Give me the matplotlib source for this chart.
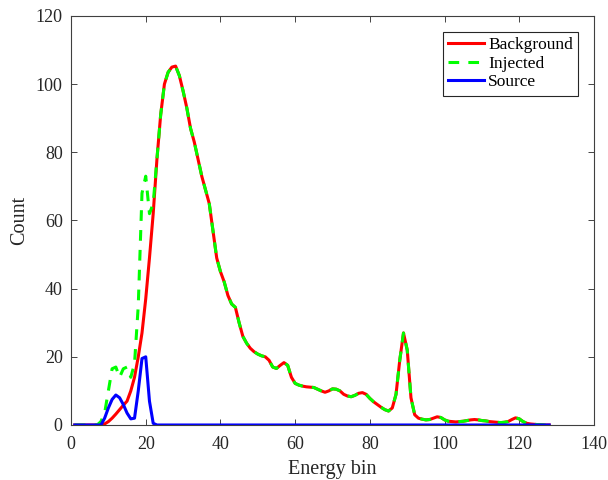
import numpy as np
import matplotlib
matplotlib.use("Agg")
import matplotlib.pyplot as plt

plt.rcParams['font.family'] = ['Liberation Serif', 'DejaVu Serif']
plt.rcParams['mathtext.fontset'] = 'stix'

bins = np.arange(1, 129)

background = [
    0, 0, 0, 0, 0, 0, 0, 0, 0.3, 1,
    2, 3.2, 4.5, 5.8, 7, 10, 14, 20, 27, 37,
    49, 62, 78, 91, 100, 103.5, 105, 105.3, 102.5, 98,
    93, 87, 83, 78, 73, 69, 65, 57, 49, 45,
    42, 38, 35.5, 34.5, 30, 26, 24, 22.5, 21.5, 20.8,
    20.3, 20, 19, 17, 16.6, 17.5, 18.3, 17.5, 14, 12.2,
    11.7, 11.4, 11.2, 11.1, 11, 10.5, 10, 9.6, 10, 10.6,
    10.5, 10, 9, 8.5, 8.3, 8.7, 9.3, 9.5, 9, 7.8,
    6.8, 6, 5.2, 4.5, 4.1, 5, 9, 19, 27, 22,
    8, 3, 2, 1.7, 1.5, 1.6, 2, 2.4, 2.2, 1.5,
    1.1, 1, 0.9, 1, 1.1, 1.3, 1.5, 1.6, 1.5, 1.3,
    1.2, 1, 0.9, 0.8, 0.7, 0.8, 1, 1.6, 2.1, 1.8,
    1, 0.5, 0.3, 0.2, 0.1, 0.05, 0, 0,
]

source_head = [
    0, 0, 0, 0, 0, 0, 0, 0, 2, 5,
    7.5, 8.8, 8, 6, 3.5, 1.8, 2, 10, 19.5, 20,
    7, 0.5,
]
source = source_head + [0] * (128 - len(source_head))

injected_head = [
    0, 0, 0, 0, 0, 0, 0, 1, 3.5, 10,
    16.5, 17, 14, 16.5, 17, 14, 18, 35, 68, 73,
    62, 65,
]
injected = injected_head + background[len(injected_head):]

fig = plt.figure(figsize=(6.08, 4.8), dpi=100)
ax = fig.add_axes([0.1168, 0.1146, 0.8602, 0.8521])

ax.plot(bins, background, color=(1, 0, 0), lw=2.2, label='Background')
ax.plot(bins, injected, color=(0, 1, 0), lw=2.2, ls=(0, (3.5, 3)), label='Injected')
ax.plot(bins, source, color=(0, 0, 1), lw=2.2, label='Source')

ax.set_xlim(0, 140)
ax.set_ylim(0, 120)
ax.set_xticks(np.arange(0, 141, 20))
ax.set_yticks(np.arange(0, 121, 20))
ax.tick_params(direction='in', length=4, width=0.6, colors='#262626',
               labelsize=13, labelcolor='#262626', top=True, right=True)
ax.tick_params(axis='x', pad=8)
ax.tick_params(axis='y', pad=6)
for s in ax.spines.values():
    s.set_color('#404040')
    s.set_linewidth(0.8)

ax.set_xlabel('Energy bin', fontsize=14.5, color='#262626', labelpad=5)
ax.set_ylabel('Count', fontsize=14.5, color='#262626', labelpad=5)

leg = ax.legend(loc='upper right', fontsize=12.5, fancybox=False, framealpha=1,
                edgecolor='#262626', handlelength=2.05, handletextpad=0.25,
                labelspacing=0.15, borderpad=0.3, borderaxespad=0.9)
leg.get_frame().set_linewidth(0.8)

fig.savefig('out.png', dpi=100)
